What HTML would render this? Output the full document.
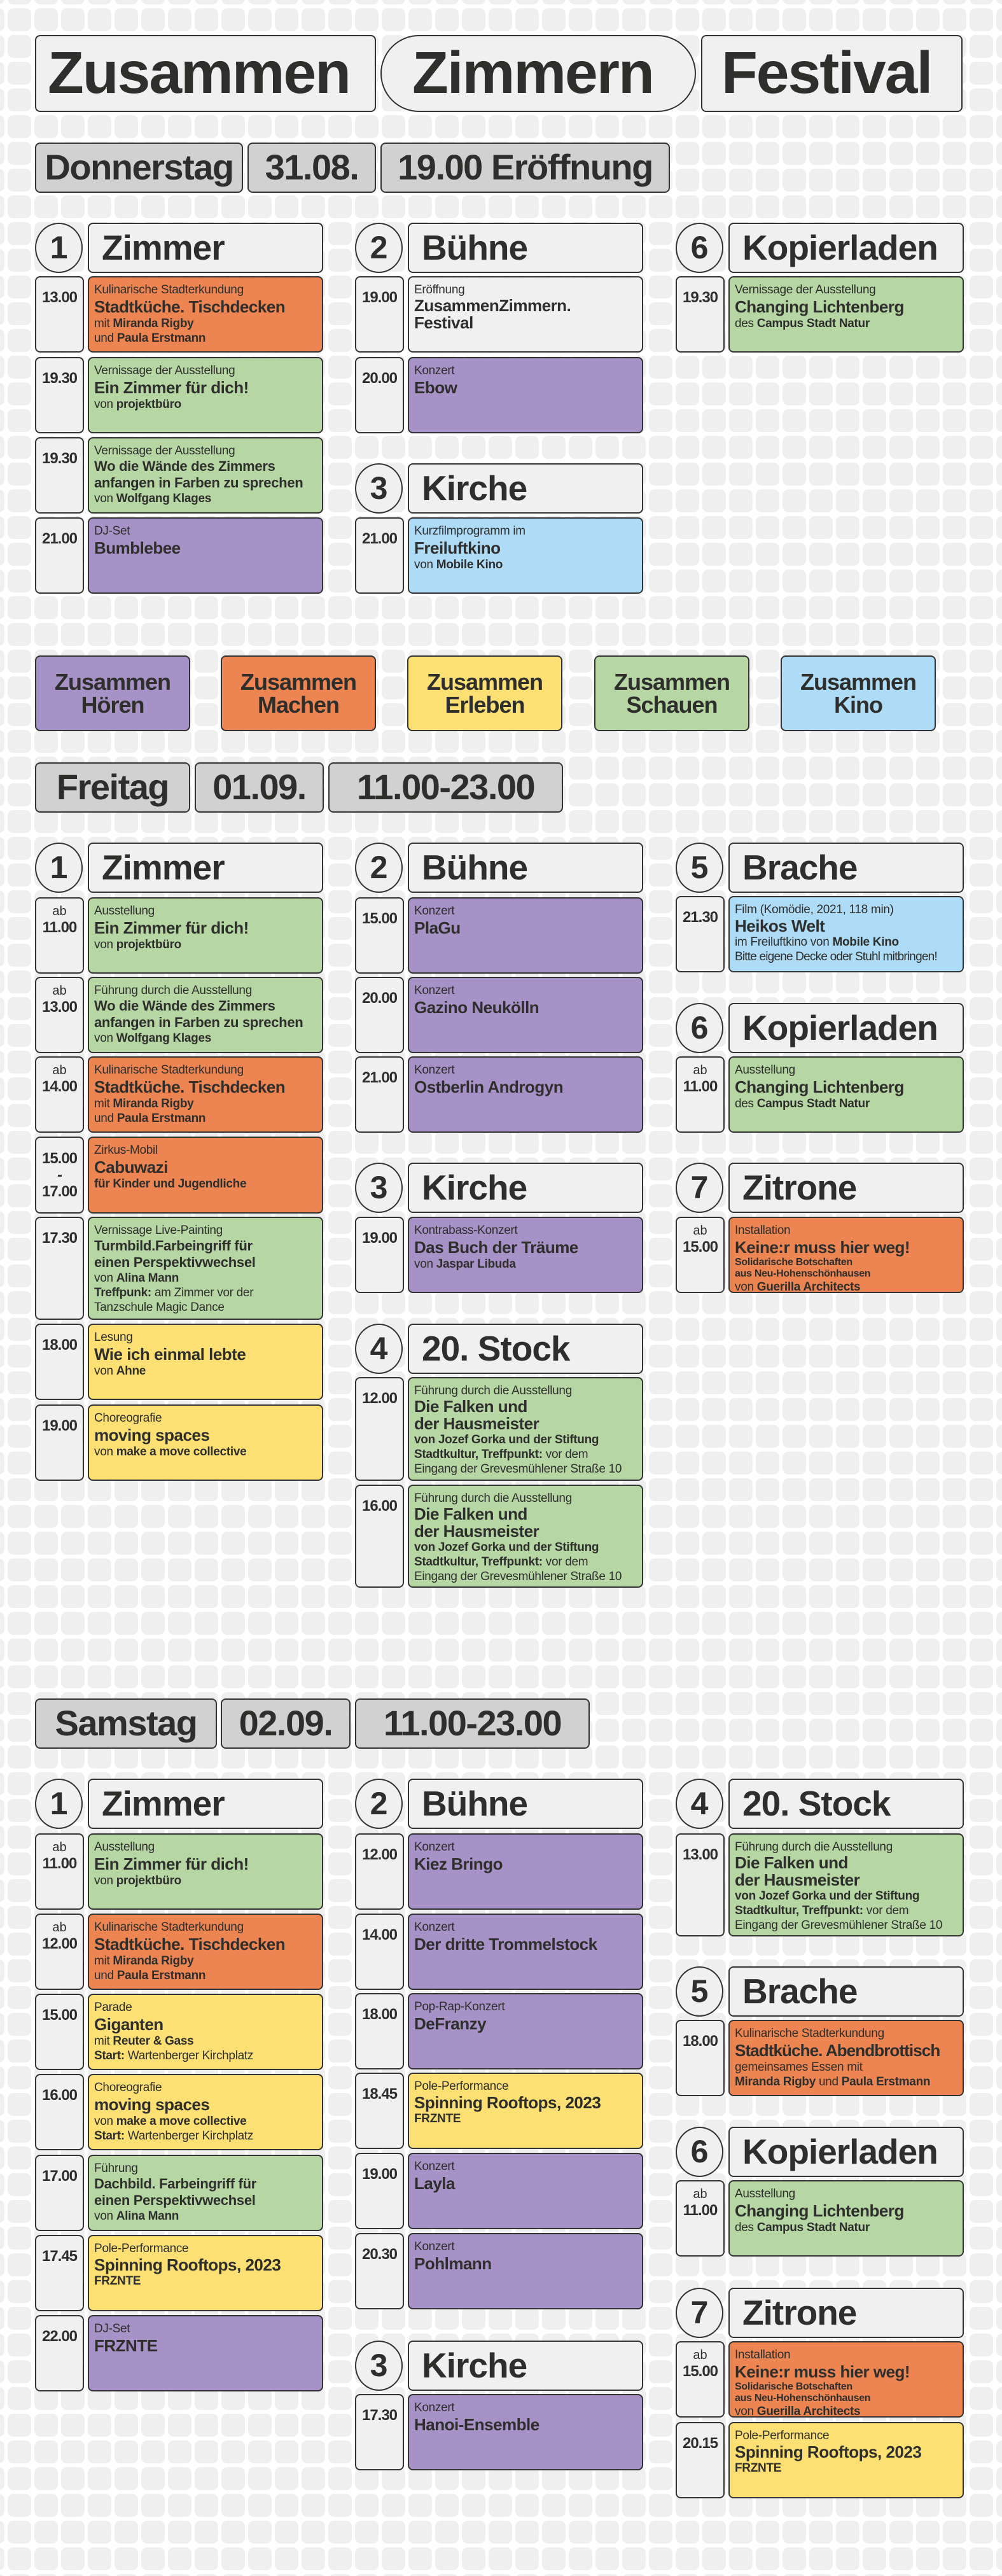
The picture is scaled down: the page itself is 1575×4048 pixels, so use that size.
<!DOCTYPE html>
<html><head><meta charset="utf-8">
<style>
*{margin:0;padding:0}
body{width:1575px;height:4048px;position:relative;background:#fff;font-family:"Liberation Sans",Arial,sans-serif;color:#2e2e2c;overflow:hidden}
#bg{position:absolute;left:0;top:0}
.b{position:absolute;box-sizing:border-box;border:2.5px solid #333;border-radius:8px}
.tt{top:55px;height:121px;background:#f0f0f0;font-size:93px;font-weight:bold;letter-spacing:-2px;line-height:114px;padding-left:18px}
.d{height:79px;background:#d0d1d0;font-size:56px;font-weight:bold;letter-spacing:-1.5px;line-height:74px;text-align:center;white-space:nowrap}
.hc{width:75px;height:79px;border-radius:50%;background:#f0f0f0;text-align:center;font-size:50px;font-weight:bold;line-height:74px}
.hb{width:370px;height:79px;background:#f0f0f0;font-size:55px;font-weight:bold;letter-spacing:-1px;line-height:74px;padding-left:20px;white-space:nowrap}
.lg{top:1030px;width:244px;height:119px;text-align:center;font-size:36px;font-weight:bold;letter-spacing:-1px;line-height:36px;padding-top:22px}
.tm{width:77px;height:120px;background:#f0f0f0;text-align:center;font-weight:bold;font-size:24px;letter-spacing:-1px;line-height:28px;padding-top:18px}
.tm.a{padding-top:8px}
.tm small{display:block;font-weight:normal;font-size:20px;line-height:24px;letter-spacing:0}
.ev{width:370px;height:120px;padding:9px 8px 0 8px;overflow:hidden}
.h2{height:162px}
.c{font-size:19px;line-height:22px;letter-spacing:-0.3px;white-space:nowrap}
.n{font-size:26px;font-weight:bold;line-height:30px;letter-spacing:-0.5px;white-space:nowrap}
.n.m{line-height:27px}
.n2{font-size:22px;font-weight:bold;line-height:26px;letter-spacing:-0.3px;white-space:nowrap}
.s{font-size:19px;line-height:23px;letter-spacing:-0.3px;white-space:nowrap}
.ss{font-size:16px;line-height:18px;font-weight:bold;letter-spacing:-0.3px}
.o{background:#ec8552}.g{background:#b6d7a4}.p{background:#a692c6}.y{background:#fde073}.k{background:#aedcf6}.w{background:#f0f0f0}
</style></head><body>
<svg id="bg" width="1575" height="4048"><defs><pattern id="pt" width="42" height="42" patternUnits="userSpaceOnUse" x="12" y="13"><rect width="37" height="36" rx="9" fill="#efefef"/></pattern></defs><rect width="1575" height="4048" fill="url(#pt)"/></svg>

<!-- Title -->
<div class="b tt" style="left:55px;width:536px">Zusammen</div>
<div class="b tt" style="left:598px;width:496px;border-radius:62px;padding-left:48px">Zimmern</div>
<div class="b tt" style="left:1102px;width:411px;padding-left:30px">Festival</div>

<!-- Thursday -->
<div class="b d" style="left:55px;top:224px;width:327px">Donnerstag</div>
<div class="b d" style="left:389px;top:224px;width:202px">31.08.</div>
<div class="b d" style="left:598px;top:224px;width:455px">19.00 Eröffnung</div>

<div class="b hc" style="left:55px;top:350px">1</div><div class="b hb" style="left:138px;top:350px">Zimmer</div>
<div class="b hc" style="left:558px;top:350px">2</div><div class="b hb" style="left:641px;top:350px">Bühne</div>
<div class="b hc" style="left:1062px;top:350px">6</div><div class="b hb" style="left:1145px;top:350px">Kopierladen</div>

<div class="b tm" style="left:55px;top:434px">13.00</div>
<div class="b ev o" style="left:138px;top:434px"><div class="c">Kulinarische Stadterkundung</div><div class="n">Stadtküche. Tischdecken</div><div class="s">mit <b>Miranda Rigby</b></div><div class="s">und <b>Paula Erstmann</b></div></div>
<div class="b tm" style="left:55px;top:561px">19.30</div>
<div class="b ev g" style="left:138px;top:561px"><div class="c">Vernissage der Ausstellung</div><div class="n">Ein Zimmer für dich!</div><div class="s">von <b>projektbüro</b></div></div>
<div class="b tm" style="left:55px;top:687px">19.30</div>
<div class="b ev g" style="left:138px;top:687px"><div class="c">Vernissage der Ausstellung</div><div class="n2">Wo die Wände des Zimmers<br>anfangen in Farben zu sprechen</div><div class="s">von <b>Wolfgang Klages</b></div></div>
<div class="b tm" style="left:55px;top:813px">21.00</div>
<div class="b ev p" style="left:138px;top:813px"><div class="c">DJ-Set</div><div class="n">Bumblebee</div></div>

<div class="b tm" style="left:558px;top:434px">19.00</div>
<div class="b ev w" style="left:641px;top:434px"><div class="c">Eröffnung</div><div class="n m">ZusammenZimmern.<br>Festival</div></div>
<div class="b tm" style="left:558px;top:561px">20.00</div>
<div class="b ev p" style="left:641px;top:561px"><div class="c">Konzert</div><div class="n">Ebow</div></div>
<div class="b hc" style="left:558px;top:728px">3</div><div class="b hb" style="left:641px;top:728px">Kirche</div>
<div class="b tm" style="left:558px;top:813px">21.00</div>
<div class="b ev k" style="left:641px;top:813px"><div class="c">Kurzfilmprogramm im</div><div class="n">Freiluftkino</div><div class="s">von <b>Mobile Kino</b></div></div>

<div class="b tm" style="left:1062px;top:434px">19.30</div>
<div class="b ev g" style="left:1145px;top:434px"><div class="c">Vernissage der Ausstellung</div><div class="n">Changing Lichtenberg</div><div class="s">des <b>Campus Stadt Natur</b></div></div>

<!-- Legend -->
<div class="b lg p" style="left:55px">Zusammen<br>Hören</div>
<div class="b lg o" style="left:347px">Zusammen<br>Machen</div>
<div class="b lg y" style="left:640px">Zusammen<br>Erleben</div>
<div class="b lg g" style="left:934px">Zusammen<br>Schauen</div>
<div class="b lg k" style="left:1227px">Zusammen<br>Kino</div>

<!-- Friday -->
<div class="b d" style="left:55px;top:1198px;width:244px">Freitag</div>
<div class="b d" style="left:306px;top:1198px;width:203px">01.09.</div>
<div class="b d" style="left:516px;top:1198px;width:369px">11.00-23.00</div>

<div class="b hc" style="left:55px;top:1324px">1</div><div class="b hb" style="left:138px;top:1324px">Zimmer</div>
<div class="b hc" style="left:558px;top:1324px">2</div><div class="b hb" style="left:641px;top:1324px">Bühne</div>
<div class="b hc" style="left:1062px;top:1324px">5</div><div class="b hb" style="left:1145px;top:1324px">Brache</div>

<div class="b tm a" style="left:55px;top:1410px"><small>ab</small>11.00</div>
<div class="b ev g" style="left:138px;top:1410px"><div class="c">Ausstellung</div><div class="n">Ein Zimmer für dich!</div><div class="s">von <b>projektbüro</b></div></div>
<div class="b tm a" style="left:55px;top:1535px"><small>ab</small>13.00</div>
<div class="b ev g" style="left:138px;top:1535px"><div class="c">Führung durch die Ausstellung</div><div class="n2">Wo die Wände des Zimmers<br>anfangen in Farben zu sprechen</div><div class="s">von <b>Wolfgang Klages</b></div></div>
<div class="b tm a" style="left:55px;top:1660px"><small>ab</small>14.00</div>
<div class="b ev o" style="left:138px;top:1660px"><div class="c">Kulinarische Stadterkundung</div><div class="n">Stadtküche. Tischdecken</div><div class="s">mit <b>Miranda Rigby</b></div><div class="s">und <b>Paula Erstmann</b></div></div>
<div class="b tm" style="left:55px;top:1786px;height:121px;padding-top:20px;line-height:26px">15.00<br>-<br>17.00</div>
<div class="b ev o" style="left:138px;top:1786px;height:121px"><div class="c">Zirkus-Mobil</div><div class="n">Cabuwazi</div><div class="s"><b>für Kinder und Jugendliche</b></div></div>
<div class="b tm" style="left:55px;top:1912px;height:162px">17.30</div>
<div class="b ev g h2" style="left:138px;top:1912px"><div class="c">Vernissage Live-Painting</div><div class="n2">Turmbild.Farbeingriff für<br>einen Perspektivwechsel</div><div class="s">von <b>Alina Mann</b></div><div class="s"><b>Treffpunk:</b> am Zimmer vor der</div><div class="s">Tanzschule Magic Dance</div></div>
<div class="b tm" style="left:55px;top:2080px">18.00</div>
<div class="b ev y" style="left:138px;top:2080px"><div class="c">Lesung</div><div class="n">Wie ich einmal lebte</div><div class="s">von <b>Ahne</b></div></div>
<div class="b tm" style="left:55px;top:2207px">19.00</div>
<div class="b ev y" style="left:138px;top:2207px"><div class="c">Choreografie</div><div class="n">moving spaces</div><div class="s">von <b>make a move collective</b></div></div>

<div class="b tm" style="left:558px;top:1410px">15.00</div>
<div class="b ev p" style="left:641px;top:1410px"><div class="c">Konzert</div><div class="n">PlaGu</div></div>
<div class="b tm" style="left:558px;top:1535px">20.00</div>
<div class="b ev p" style="left:641px;top:1535px"><div class="c">Konzert</div><div class="n">Gazino Neukölln</div></div>
<div class="b tm" style="left:558px;top:1660px">21.00</div>
<div class="b ev p" style="left:641px;top:1660px"><div class="c">Konzert</div><div class="n">Ostberlin Androgyn</div></div>
<div class="b hc" style="left:558px;top:1827px">3</div><div class="b hb" style="left:641px;top:1827px">Kirche</div>
<div class="b tm" style="left:558px;top:1912px">19.00</div>
<div class="b ev p" style="left:641px;top:1912px"><div class="c">Kontrabass-Konzert</div><div class="n">Das Buch der Träume</div><div class="s">von <b>Jaspar Libuda</b></div></div>
<div class="b hc" style="left:558px;top:2080px">4</div><div class="b hb" style="left:641px;top:2080px">20. Stock</div>
<div class="b tm" style="left:558px;top:2164px;height:163px">12.00</div>
<div class="b ev g h2" style="left:641px;top:2164px;height:163px"><div class="c">Führung durch die Ausstellung</div><div class="n m">Die Falken und<br>der Hausmeister</div><div class="s"><b>von Jozef Gorka und der Stiftung</b></div><div class="s"><b>Stadtkultur, Treffpunkt:</b> vor dem</div><div class="s">Eingang der Grevesmühlener Straße 10</div></div>
<div class="b tm" style="left:558px;top:2333px;height:162px">16.00</div>
<div class="b ev g h2" style="left:641px;top:2333px"><div class="c">Führung durch die Ausstellung</div><div class="n m">Die Falken und<br>der Hausmeister</div><div class="s"><b>von Jozef Gorka und der Stiftung</b></div><div class="s"><b>Stadtkultur, Treffpunkt:</b> vor dem</div><div class="s">Eingang der Grevesmühlener Straße 10</div></div>

<div class="b tm" style="left:1062px;top:1408px">21.30</div>
<div class="b ev k" style="left:1145px;top:1408px"><div class="c">Film (Komödie, 2021, 118 min)</div><div class="n" style="line-height:28px">Heikos Welt</div><div class="s">im Freiluftkino von <b>Mobile Kino</b></div><div class="s" style="letter-spacing:-0.8px">Bitte eigene Decke oder Stuhl mitbringen!</div></div>
<div class="b hc" style="left:1062px;top:1576px">6</div><div class="b hb" style="left:1145px;top:1576px">Kopierladen</div>
<div class="b tm a" style="left:1062px;top:1660px"><small>ab</small>11.00</div>
<div class="b ev g" style="left:1145px;top:1660px"><div class="c">Ausstellung</div><div class="n">Changing Lichtenberg</div><div class="s">des <b>Campus Stadt Natur</b></div></div>
<div class="b hc" style="left:1062px;top:1827px">7</div><div class="b hb" style="left:1145px;top:1827px">Zitrone</div>
<div class="b tm a" style="left:1062px;top:1912px"><small>ab</small>15.00</div>
<div class="b ev o" style="left:1145px;top:1912px"><div class="c">Installation</div><div class="n">Keine:r muss hier weg!</div><div class="ss">Solidarische Botschaften<br>aus Neu-Hohenschönhausen</div><div class="s">von <b>Guerilla Architects</b></div></div>

<!-- Saturday -->
<div class="b d" style="left:55px;top:2669px;width:286px">Samstag</div>
<div class="b d" style="left:347px;top:2669px;width:204px">02.09.</div>
<div class="b d" style="left:558px;top:2669px;width:369px">11.00-23.00</div>

<div class="b hc" style="left:55px;top:2795px">1</div><div class="b hb" style="left:138px;top:2795px">Zimmer</div>
<div class="b hc" style="left:558px;top:2795px">2</div><div class="b hb" style="left:641px;top:2795px">Bühne</div>
<div class="b hc" style="left:1062px;top:2795px">4</div><div class="b hb" style="left:1145px;top:2795px">20. Stock</div>

<div class="b tm a" style="left:55px;top:2881px"><small>ab</small>11.00</div>
<div class="b ev g" style="left:138px;top:2881px"><div class="c">Ausstellung</div><div class="n">Ein Zimmer für dich!</div><div class="s">von <b>projektbüro</b></div></div>
<div class="b tm a" style="left:55px;top:3007px"><small>ab</small>12.00</div>
<div class="b ev o" style="left:138px;top:3007px"><div class="c">Kulinarische Stadterkundung</div><div class="n">Stadtküche. Tischdecken</div><div class="s">mit <b>Miranda Rigby</b></div><div class="s">und <b>Paula Erstmann</b></div></div>
<div class="b tm" style="left:55px;top:3133px">15.00</div>
<div class="b ev y" style="left:138px;top:3133px"><div class="c">Parade</div><div class="n">Giganten</div><div class="s">mit <b>Reuter &amp; Gass</b></div><div class="s"><b>Start:</b> Wartenberger Kirchplatz</div></div>
<div class="b tm" style="left:55px;top:3259px">16.00</div>
<div class="b ev y" style="left:138px;top:3259px"><div class="c">Choreografie</div><div class="n">moving spaces</div><div class="s">von <b>make a move collective</b></div><div class="s"><b>Start:</b> Wartenberger Kirchplatz</div></div>
<div class="b tm" style="left:55px;top:3386px">17.00</div>
<div class="b ev g" style="left:138px;top:3386px"><div class="c">Führung</div><div class="n2">Dachbild. Farbeingriff für<br>einen Perspektivwechsel</div><div class="s">von <b>Alina Mann</b></div></div>
<div class="b tm" style="left:55px;top:3512px">17.45</div>
<div class="b ev y" style="left:138px;top:3512px"><div class="c">Pole-Performance</div><div class="n" style="line-height:28px">Spinning Rooftops, 2023</div><div class="s"><b>FRZNTE</b></div></div>
<div class="b tm" style="left:55px;top:3638px">22.00</div>
<div class="b ev p" style="left:138px;top:3638px"><div class="c">DJ-Set</div><div class="n">FRZNTE</div></div>

<div class="b tm" style="left:558px;top:2881px">12.00</div>
<div class="b ev p" style="left:641px;top:2881px"><div class="c">Konzert</div><div class="n">Kiez Bringo</div></div>
<div class="b tm" style="left:558px;top:3007px">14.00</div>
<div class="b ev p" style="left:641px;top:3007px"><div class="c">Konzert</div><div class="n">Der dritte Trommelstock</div></div>
<div class="b tm" style="left:558px;top:3132px">18.00</div>
<div class="b ev p" style="left:641px;top:3132px"><div class="c">Pop-Rap-Konzert</div><div class="n">DeFranzy</div></div>
<div class="b tm" style="left:558px;top:3257px">18.45</div>
<div class="b ev y" style="left:641px;top:3257px"><div class="c">Pole-Performance</div><div class="n" style="line-height:28px">Spinning Rooftops, 2023</div><div class="s"><b>FRZNTE</b></div></div>
<div class="b tm" style="left:558px;top:3383px">19.00</div>
<div class="b ev p" style="left:641px;top:3383px"><div class="c">Konzert</div><div class="n">Layla</div></div>
<div class="b tm" style="left:558px;top:3509px">20.30</div>
<div class="b ev p" style="left:641px;top:3509px"><div class="c">Konzert</div><div class="n">Pohlmann</div></div>
<div class="b hc" style="left:558px;top:3678px">3</div><div class="b hb" style="left:641px;top:3678px">Kirche</div>
<div class="b tm" style="left:558px;top:3762px">17.30</div>
<div class="b ev p" style="left:641px;top:3762px"><div class="c">Konzert</div><div class="n">Hanoi-Ensemble</div></div>

<div class="b tm" style="left:1062px;top:2881px;height:162px;background:#f0f0f0">13.00</div>
<div class="b ev g h2" style="left:1145px;top:2881px"><div class="c">Führung durch die Ausstellung</div><div class="n m">Die Falken und<br>der Hausmeister</div><div class="s"><b>von Jozef Gorka und der Stiftung</b></div><div class="s"><b>Stadtkultur, Treffpunkt:</b> vor dem</div><div class="s">Eingang der Grevesmühlener Straße 10</div></div>
<div class="b hc" style="left:1062px;top:3090px">5</div><div class="b hb" style="left:1145px;top:3090px">Brache</div>
<div class="b tm" style="left:1062px;top:3174px">18.00</div>
<div class="b ev o" style="left:1145px;top:3174px"><div class="c">Kulinarische Stadterkundung</div><div class="n" style="letter-spacing:-0.9px">Stadtküche. Abendbrottisch</div><div class="s">gemeinsames Essen mit</div><div class="s"><b>Miranda Rigby</b> und <b>Paula Erstmann</b></div></div>
<div class="b hc" style="left:1062px;top:3342px">6</div><div class="b hb" style="left:1145px;top:3342px">Kopierladen</div>
<div class="b tm a" style="left:1062px;top:3426px"><small>ab</small>11.00</div>
<div class="b ev g" style="left:1145px;top:3426px"><div class="c">Ausstellung</div><div class="n">Changing Lichtenberg</div><div class="s">des <b>Campus Stadt Natur</b></div></div>
<div class="b hc" style="left:1062px;top:3595px">7</div><div class="b hb" style="left:1145px;top:3595px">Zitrone</div>
<div class="b tm a" style="left:1062px;top:3679px"><small>ab</small>15.00</div>
<div class="b ev o" style="left:1145px;top:3679px"><div class="c">Installation</div><div class="n">Keine:r muss hier weg!</div><div class="ss">Solidarische Botschaften<br>aus Neu-Hohenschönhausen</div><div class="s">von <b>Guerilla Architects</b></div></div>
<div class="b tm" style="left:1062px;top:3806px">20.15</div>
<div class="b ev y" style="left:1145px;top:3806px"><div class="c">Pole-Performance</div><div class="n" style="line-height:28px">Spinning Rooftops, 2023</div><div class="s"><b>FRZNTE</b></div></div>
</body></html>
